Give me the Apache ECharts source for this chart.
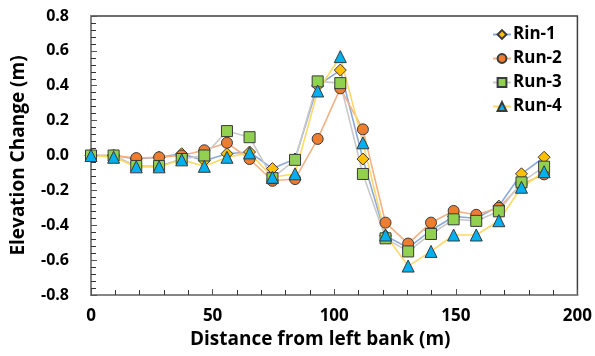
<!DOCTYPE html>
<html>
<head>
<meta charset="utf-8">
<script src="https://cdn.jsdelivr.net/npm/echarts@6/dist/echarts.min.js"></script>
<style>
  html, body { margin: 0; padding: 0; background: #fff; }
  #chart { width: 595px; height: 356px; }
</style>
</head>
<body>
<div id="chart"></div>
<script>
// Cross-section survey stations (m from left bank)
const distance = [0, 9.3, 18.6, 28.0, 37.3, 46.6, 55.9, 65.2, 74.6, 83.9, 93.2,
                  102.5, 111.8, 121.1, 130.4, 139.8, 149.1, 158.4, 167.7, 177.0, 186.3];

// Elevation change (m) per run
const rin1 = [0.00, 0.00, -0.02, -0.01, 0.01, -0.03, 0.01, 0.02, -0.075, -0.02, 0.40,
              0.49, -0.02, -0.46, -0.53, -0.43, -0.35, -0.36, -0.29, -0.105, -0.01];
const run2 = [0.00, 0.00, -0.015, -0.01, 0.00, 0.03, 0.073, -0.02, -0.145, -0.135, 0.095,
              0.385, 0.15, -0.385, -0.505, -0.385, -0.318, -0.34, -0.30, -0.165, -0.108];
const run3 = [0.00, 0.00, -0.06, -0.06, -0.02, 0.00, 0.14, 0.105, -0.13, -0.025, 0.425,
              0.415, -0.106, -0.475, -0.55, -0.45, -0.366, -0.375, -0.32, -0.154, -0.064];
const run4 = [0.00, -0.01, -0.065, -0.065, -0.025, -0.062, -0.01, 0.015, -0.125, -0.105, 0.37,
              0.567, 0.073, -0.456, -0.634, -0.55, -0.456, -0.456, -0.374, -0.182, -0.093];

const seriesNames = ['Rin-1', 'Run-2', 'Run-3', 'Run-4'];

// Axis ticks
const xTicks = [0, 50, 100, 150, 200];
const yTicks = [-0.8, -0.6, -0.4, -0.2, 0.0, 0.2, 0.4, 0.6, 0.8];

const font = '"Open Sans", "Noto Sans", sans-serif';

function pairs(ys) {
  return distance.map((d, i) => [d, ys[i]]);
}

function makeSeries(name, ys, symbol, size, fill, lineColor) {
  return {
    name: name,
    type: 'line',
    data: pairs(ys),
    symbol: symbol,
    symbolSize: size,
    showAllSymbol: true,
    lineStyle: { color: lineColor, width: 1.6 },
    itemStyle: { color: fill, borderColor: '#3a3a3a', borderWidth: 1 },
    emphasis: { disabled: true },
    animation: false
  };
}

const chart = echarts.init(document.getElementById('chart'), null, { renderer: 'canvas' });

chart.setOption({
  backgroundColor: '#ffffff',
  animation: false,
  grid: {
    left: 91, right: 16, top: 16, bottom: 61,
    show: true, borderColor: '#404040', borderWidth: 1.5, backgroundColor: 'transparent'
  },
  legend: {
    orient: 'vertical',
    left: 487, top: 21,
    itemWidth: 18, itemHeight: 11, itemGap: 7,
    textStyle: { fontFamily: font, fontWeight: 'bold', fontSize: 17, color: '#000', padding: [0, 0, 0, -3] },
    data: seriesNames
  },
  xAxis: {
    type: 'value',
    min: xTicks[0], max: xTicks[xTicks.length - 1], interval: 50,
    name: 'Distance from left bank (m)',
    nameLocation: 'middle', nameGap: 31,
    nameTextStyle: { fontFamily: font, fontWeight: 'bold', fontSize: 19, color: '#000', padding: [0, 28, 0, 0] },
    axisLine: { show: true, onZero: false, lineStyle: { color: '#868686', width: 2 } },
    axisTick: { show: true, inside: true, length: 6, lineStyle: { color: '#555', width: 1 } },
    minorTick: { show: true, splitNumber: 5, length: 5, lineStyle: { color: '#333', width: 1 } },
    axisLabel: { fontFamily: font, fontWeight: 'bold', fontSize: 17, color: '#000', margin: 13 },
    splitLine: { show: false }
  },
  yAxis: {
    type: 'value',
    min: yTicks[0], max: yTicks[yTicks.length - 1], interval: 0.2,
    name: 'Elevation Change (m)',
    nameLocation: 'middle', nameGap: 63,
    nameTextStyle: { fontFamily: font, fontWeight: 'bold', fontSize: 19, color: '#000' },
    axisLine: { show: true, onZero: false, lineStyle: { color: '#868686', width: 2 } },
    axisTick: { show: true, inside: true, length: 6, lineStyle: { color: '#555', width: 1 } },
    minorTick: { show: true, splitNumber: 5, length: 5, lineStyle: { color: '#333', width: 1 } },
    axisLabel: {
      fontFamily: font, fontWeight: 'bold', fontSize: 16, color: '#000', margin: 22,
      formatter: v => v.toFixed(1)
    },
    splitLine: { show: false }
  },
  series: [
    makeSeries(seriesNames[0], rin1, 'diamond', 12, '#FFC000', '#8EA9DB'),
    makeSeries(seriesNames[1], run2, 'circle', 11, '#ED7D31', '#F4B183'),
    makeSeries(seriesNames[2], run3, 'rect', 11, '#92D050', '#C9C9C9'),
    makeSeries(seriesNames[3], run4, 'triangle', 12, '#00B0F0', '#FFD966')
  ]
});
</script>
</body>
</html>
